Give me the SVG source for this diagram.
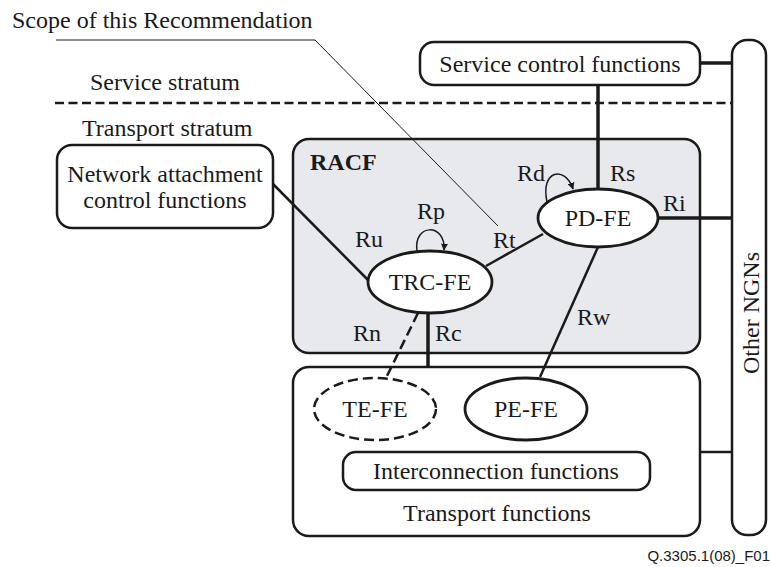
<svg xmlns="http://www.w3.org/2000/svg" width="771" height="567" viewBox="0 0 771 567">
<style>
text{font-family:"Liberation Serif","Times New Roman",serif;font-size:24px;fill:#1a1a1a}
.c{text-anchor:middle}
.box{fill:#fff;stroke:#1a1a1a;stroke-width:2.5}
.ell{fill:#fff;stroke:#1a1a1a;stroke-width:2.8}
.thick{stroke:#1a1a1a;stroke-width:3.5;fill:none}
.med{stroke:#1a1a1a;stroke-width:2.5;fill:none}
.loop{stroke:#1a1a1a;stroke-width:1.5;fill:none}
</style>
<defs>
<marker id="ah" viewBox="0 0 10 10" refX="9" refY="5" markerWidth="7" markerHeight="7" orient="auto" markerUnits="userSpaceOnUse">
<path d="M0,0 L10,5 L0,10 z" fill="#1a1a1a"/>
</marker>
</defs>
<rect width="771" height="567" fill="#fff"/>

<g id="strata">
<text x="12" y="28">Scope of this Recommendation</text>
<text x="90" y="90">Service stratum</text>
<line x1="55" y1="103" x2="731" y2="103" stroke="#1a1a1a" stroke-width="2.5" stroke-dasharray="9,4.5"/>
<text x="82" y="136">Transport stratum</text>
</g>

<g id="racf">
<rect x="293" y="139" width="407" height="214" rx="16" fill="#e8e9ed" stroke="#1a1a1a" stroke-width="2.5"/>
<text x="310" y="170" font-weight="bold">RACF</text>
</g>

<g id="transport">
<rect class="box" x="293" y="367" width="407" height="169" rx="16"/>
<text class="c" x="497" y="521">Transport functions</text>
</g>

<g id="other-ngns">
<rect class="box" x="732" y="40" width="34" height="495" rx="15"/>
<text class="c" transform="translate(759,313) rotate(-90)">Other NGNs</text>
</g>

<g id="connectors">
<line class="thick" x1="700" y1="63" x2="732" y2="63"/>
<line class="thick" x1="598" y1="85" x2="598" y2="189"/>
<line class="thick" x1="658" y1="218" x2="732" y2="218"/>
<line class="med" x1="700" y1="452" x2="732" y2="452"/>
<line class="med" x1="273" y1="184" x2="369" y2="281"/>
<line class="med" x1="486" y1="266" x2="543" y2="234"/>
<line class="thick" x1="428" y1="313" x2="428" y2="368"/>
<line class="med" x1="418" y1="313" x2="386" y2="378" stroke-dasharray="10,5"/>
<line class="med" x1="598" y1="247" x2="540" y2="377"/>
<path class="loop" d="M417,251 C413,223 446,223 444,250" marker-end="url(#ah)"/>
<path class="loop" d="M547,202 C540,170 565,165 573,189" marker-end="url(#ah)"/>
<polyline points="56,40 315,40 498,226" fill="none" stroke="#1a1a1a" stroke-width="1"/>
<text x="417" y="219">Rp</text>
<text x="517" y="181">Rd</text>
<text x="610" y="181">Rs</text>
<text x="663" y="211">Ri</text>
<text x="355" y="247">Ru</text>
<text x="493" y="248">Rt</text>
<text x="353" y="341">Rn</text>
<text x="435" y="341">Rc</text>
<text x="577" y="325">Rw</text>
</g>

<g id="scf">
<rect class="box" x="420" y="42" width="280" height="43" rx="14"/>
<text class="c" x="560" y="72">Service control functions</text>
</g>

<g id="nacf">
<rect class="box" x="57" y="145" width="216" height="83" rx="15"/>
<text class="c" x="165" y="182">Network attachment</text>
<text class="c" x="165" y="208">control functions</text>
</g>

<g id="pd-fe">
<ellipse class="ell" cx="598" cy="218" rx="60" ry="29"/>
<text class="c" x="598" y="226">PD-FE</text>
</g>

<g id="trc-fe">
<ellipse class="ell" cx="430" cy="282" rx="62" ry="31"/>
<text class="c" x="430" y="290">TRC-FE</text>
</g>

<g id="te-fe">
<ellipse cx="375" cy="409" rx="61" ry="31" fill="#fff" stroke="#1a1a1a" stroke-width="2.5" stroke-dasharray="10,5"/>
<text class="c" x="375" y="417">TE-FE</text>
</g>

<g id="pe-fe">
<ellipse class="ell" cx="526" cy="409" rx="61" ry="31"/>
<text class="c" x="526" y="417">PE-FE</text>
</g>

<g id="interconnection">
<rect class="box" x="343" y="452" width="307" height="38" rx="13"/>
<text class="c" x="496" y="479">Interconnection functions</text>
</g>

<text x="770" y="561" text-anchor="end" style="font-family:'Liberation Sans',Arial,sans-serif;font-size:15px">Q.3305.1(08)_F01</text>
</svg>
